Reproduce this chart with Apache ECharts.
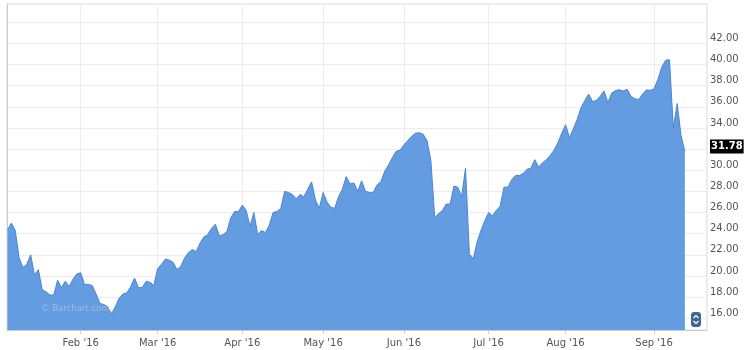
<!DOCTYPE html>
<html><head><meta charset="utf-8">
<script src="https://cdn.jsdelivr.net/npm/echarts@6/dist/echarts.min.js"></script>
<style>html,body{margin:0;padding:0;background:#fff}#c{width:750px;height:350px}</style>
</head><body><div id="c"></div>
<script>
// Daily closes, one per trading day (Jan 4 2016 .. mid Sep 2016)
const prices = [
 24.4,25.0,24.3,21.7,20.8,21.1,22.0,20.1,20.6,18.7,
 18.5,18.2,18.2,19.6,18.9,19.5,19.0,19.7,20.2,20.3,
 19.2,19.2,19.1,18.3,17.4,17.3,17.1,16.4,17.1,17.9,
 18.3,18.4,19.0,19.8,18.9,18.9,19.5,19.4,19.1,20.7,
 21.1,21.6,21.5,21.3,20.6,20.9,21.7,22.2,22.5,22.3,
 23.1,23.7,23.9,24.5,24.9,23.8,23.9,24.2,25.5,26.1,
 26.1,26.7,26.2,24.7,26.0,23.9,24.3,24.1,24.8,26.0,
 26.1,26.4,28.0,27.9,27.7,27.3,27.7,27.5,28.2,28.9,
 27.2,26.4,27.9,27.0,26.5,26.4,27.5,28.2,29.4,28.7,
 28.8,28.0,29.0,28.0,27.9,27.9,28.6,28.9,29.9,30.5,
 31.2,31.8,31.9,32.4,32.8,33.2,33.5,33.55,33.4,32.8,
 30.9,25.5,25.9,26.2,26.8,26.8,28.5,28.4,27.5,30.2,
 22.1,21.6,23.2,24.3,25.2,26.0,25.7,26.2,26.6,28.4,
 28.4,29.1,29.5,29.5,29.7,30.1,30.2,31.0,30.3,30.7,
 31.0,31.4,31.9,32.6,33.5,34.3,33.1,33.9,34.8,35.9,
 36.6,37.2,36.5,36.6,37.0,37.5,36.4,37.3,37.55,37.6,
 37.5,37.65,37.0,36.75,36.7,37.2,37.6,37.55,37.7,38.6,
 39.75,40.4,40.45,34.0,36.3,33.3,31.78
];
const monthTickIdx = [19, 39, 61, 82, 103, 125, 145, 168];
const monthLabels = ["Feb '16", "Mar '16", "Apr '16", "May '16", "Jun '16", "Jul '16", "Aug '16", "Sep '16"];
const yTickValues = [16, 18, 20, 22, 24, 26, 28, 30, 32, 34, 36, 38, 40, 42, 44];
const yLabelValues = [16, 18, 20, 22, 24, 26, 28, 30, 34, 36, 38, 40, 42];
const lastPrice = 31.78;
const watermark = '\u00a9 Barchart.com';

const chart = echarts.init(document.getElementById('c'), null, {renderer: 'canvas'});
const data = prices.map((v, i) => [i, v]);
const font = 'DejaVu Sans';

chart.setOption({
  animation: false,
  grid: {left: 7, right: 43, top: 4, bottom: 20, show: true, borderColor: '#d9d9d9', borderWidth: 1, backgroundColor: '#fff'},
  xAxis: {
    type: 'value', min: -0.15, max: 181.75,
    axisLine: {show: true, lineStyle: {color: '#cccccc'}},
    axisTick: {show: true, customValues: monthTickIdx, length: 4, lineStyle: {color: '#cccccc'}},
    axisLabel: {customValues: monthTickIdx, formatter: v => monthLabels[monthTickIdx.indexOf(v)] || '',
      color: '#555', fontFamily: font, fontSize: 10, margin: 8},
    splitLine: {show: true, lineStyle: {color: '#ececec'}}
  },
  yAxis: {
    type: 'value', position: 'right', min: 14.89, max: 45.72,
    axisLine: {show: true, lineStyle: {color: '#cccccc'}},
    axisTick: {show: false, customValues: yTickValues},
    axisLabel: {customValues: yLabelValues, formatter: v => Number(v).toFixed(2),
      color: '#555', fontFamily: font, fontSize: 10, margin: 3, verticalAlign: 'bottom', lineHeight: 10},
    splitLine: {show: true, lineStyle: {color: '#ececec'}}
  },
  series: [{
    type: 'line', data: data, symbol: 'none',
    lineStyle: {color: '#4a86d4', width: 1},
    areaStyle: {color: '#639ce0', opacity: 1}
  }]
});

const lp = chart.convertToPixel({gridIndex: 0}, [prices.length - 1, lastPrice]);
const gridRight = 750 - 43;
chart.setOption({
  graphic: [
    {type: 'text', x: 41, y: 309, z: 100,
     style: {text: watermark, fill: '#a3badd', font: '8.5px "DejaVu Sans"', verticalAlign: 'middle'}},
    {type: 'text', x: gridRight + 3, y: lp[1] - 5, z: 100,
     style: {text: lastPrice.toFixed(2), fill: '#fff', backgroundColor: '#000', padding: [2, 1, 2, 1],
       font: 'bold 10px "DejaVu Sans"', verticalAlign: 'middle', align: 'left'}},
    {type: 'rect', z: 100, shape: {x: gridRight - 16, y: 312, width: 10, height: 15, r: 3},
     style: {fill: '#3f6894'}},
    {type: 'polyline', z: 101, shape: {points: [[gridRight - 13.5, 318], [gridRight - 11, 315.5], [gridRight - 8.5, 318]]},
     style: {stroke: '#fff', lineWidth: 1.2, fill: null}},
    {type: 'polyline', z: 101, shape: {points: [[gridRight - 13.5, 321], [gridRight - 11, 323.5], [gridRight - 8.5, 321]]},
     style: {stroke: '#fff', lineWidth: 1.2, fill: null}}
  ]
});
</script></body></html>
